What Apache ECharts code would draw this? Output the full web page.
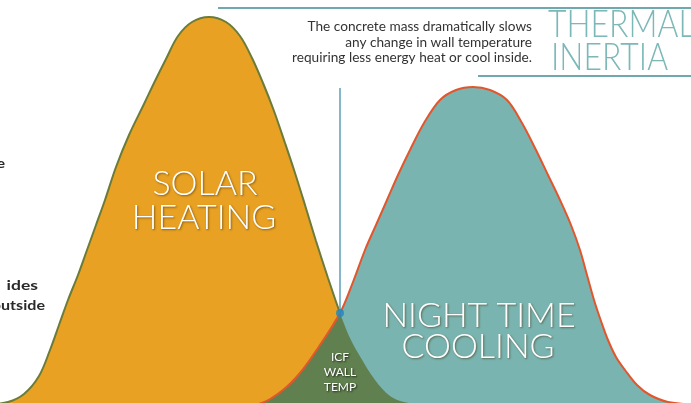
<!DOCTYPE html>
<html><head><meta charset="utf-8">
<script src="https://cdn.jsdelivr.net/npm/echarts@6/dist/echarts.min.js"></script>
<style>html,body{margin:0;padding:0;background:#fff}#c{width:691px;height:403px}</style>
</head><body><div id="c"></div>
<script>
// Curve outlines: [x, height above bottom edge]
const solarCurve = [[-15,-2],[8,1],[24,9],[39,27],[50,53],[59,78],[68,103],[78,128],[87,153],[96,178],[105,203],[116,236],[129,268],[144,299],[155,322],[166,344],[178,367],[192,381],[209,386],[226,381],[240,367],[252,345],[263,320],[274,292],[285,260],[295,230],[305,198],[316,162],[328,125],[340,90],[350,65],[361,45],[375,23],[390,7],[404,1],[425,-2]];
const coolingCurve = [[235,-3],[262,0],[283,13],[300,30],[318,55],[340,90],[353,121],[365,153],[376,178],[387,203],[398,228],[410,253],[424,280],[440,303],[456,313],[473,316],[490,313],[507,303],[522,280],[536,253],[548,228],[560,203],[571,178],[580,153],[587,128],[594,103],[601,82],[608,63],[616,46],[625,33],[637,18],[650,8],[668,1],[700,-2]];
// Overlap (ICF wall temperature) boundary, split at the crossing point
const overlapLeft = [[235,-3],[262,0],[283,13],[300,30],[318,55],[340,90]];
const overlapRight = [[340,90],[350,65],[361,45],[375,23],[390,7],[404,1],[425,-2]];
const crossPoint = [340, 90];
const inertiaLineTop = 315;
const labelsSolar = ['SOLAR','HEATING'];
const labelsCooling = ['NIGHT TIME','COOLING'];
const labelsWall = ['ICF','WALL','TEMP'];
const noteLines = ['The concrete mass dramatically slows','any change in wall temperature','requiring less energy heat or cool inside.'];
const titleWords = ['THERMAL','INERTIA'];
const leftFragments = ['e','ides','outside'];

const chart = echarts.init(document.getElementById('c'), null, {renderer:'canvas'});
const whiteShadow = {fill:'#fff', textShadowColor:'rgba(60,40,0,0.55)', textShadowBlur:2, textShadowOffsetX:1, textShadowOffsetY:1};
function txt(t, x, y, style, extra){ return Object.assign({type:'text', x:x, y:y, style:Object.assign({text:t}, style), z:100}, extra||{}); }
const big = {font:'300 34px Lato', textAlign:'center', textVerticalAlign:'middle'};
const small = Object.assign({font:'12px Lato', textAlign:'center', textVerticalAlign:'middle'}, whiteShadow, {textShadowColor:'rgba(0,0,0,0.7)'});
const note = {font:'13px Lato', fill:'#333', textAlign:'right', textVerticalAlign:'middle'};
const title = {font:'300 38px Lato', fill:'#7cb8b8', textAlign:'left', textVerticalAlign:'middle'};
const frag = {font:'bold 14px Lato', fill:'#2a2a2a', textAlign:'right', textVerticalAlign:'middle'};

const graphics = [
  txt(labelsSolar[0], 205, 184, Object.assign({}, big, whiteShadow)),
  txt(labelsSolar[1], 204, 218, Object.assign({}, big, whiteShadow)),
  txt(labelsCooling[0], 479, 316, Object.assign({}, big, whiteShadow)),
  txt(labelsCooling[1], 478, 347, Object.assign({}, big, whiteShadow)),
  txt(labelsWall[0], 340, 357, small),
  txt(labelsWall[1], 340, 372, small),
  txt(labelsWall[2], 340, 387, small),
  txt(noteLines[0], 532, 27, note, {scaleX:1.05}),
  txt(noteLines[1], 532, 43, note, {scaleX:1.05}),
  txt(noteLines[2], 532, 58, note, {scaleX:1.05}),
  txt(titleWords[0], 548, 25, title, {scaleX:0.84}),
  txt(titleWords[1], 551, 58, title, {scaleX:0.84}),
  txt(leftFragments[0], 5, 163, frag, {scaleX:1.15}),
  txt(leftFragments[1], 38, 285, frag, {scaleX:1.25}),
  txt(leftFragments[2], 45, 305, frag, {scaleX:1.15})
];

chart.setOption({
  animation:false,
  backgroundColor:'#fff',
  grid:{left:0,right:0,top:0,bottom:0},
  xAxis:{type:'value', min:0, max:691, show:false},
  yAxis:{type:'value', min:0, max:403, show:false},
  graphic: graphics,
  series:[
    {type:'line', data:solarCurve, smooth:0.35, symbol:'none', z:1,
     lineStyle:{color:'#6b7c3a', width:2}, areaStyle:{color:'#e8a122', opacity:1}},
    {type:'line', data:coolingCurve, smooth:0.35, symbol:'none', z:2,
     lineStyle:{width:0, opacity:0}, areaStyle:{color:'#7ab4b0', opacity:1}},
    {type:'line', data:overlapLeft, smooth:0.35, symbol:'none', z:3,
     lineStyle:{width:0, opacity:0}, areaStyle:{color:'#61804f', opacity:1}},
    {type:'line', data:overlapRight, smooth:0.35, symbol:'none', z:3,
     lineStyle:{width:0, opacity:0}, areaStyle:{color:'#61804f', opacity:1}},
    {type:'line', data:coolingCurve, smooth:0.35, symbol:'none', z:4,
     lineStyle:{color:'#e2562d', width:2}},
    {type:'line', data:[crossPoint,[crossPoint[0],inertiaLineTop]], symbol:'none', z:5,
     lineStyle:{color:'#5b9fb6', width:1.5}},
    {type:'line', data:[[218,395],[691,395]], symbol:'none', z:5, lineStyle:{color:'#6fa8ae', width:2}},
    {type:'line', data:[[478,327],[691,327]], symbol:'none', z:5, lineStyle:{color:'#6fa8ae', width:2}},
    {type:'scatter', data:[crossPoint], symbolSize:8, z:6, itemStyle:{color:'#1d87c4'}}
  ]
});
</script></body></html>
